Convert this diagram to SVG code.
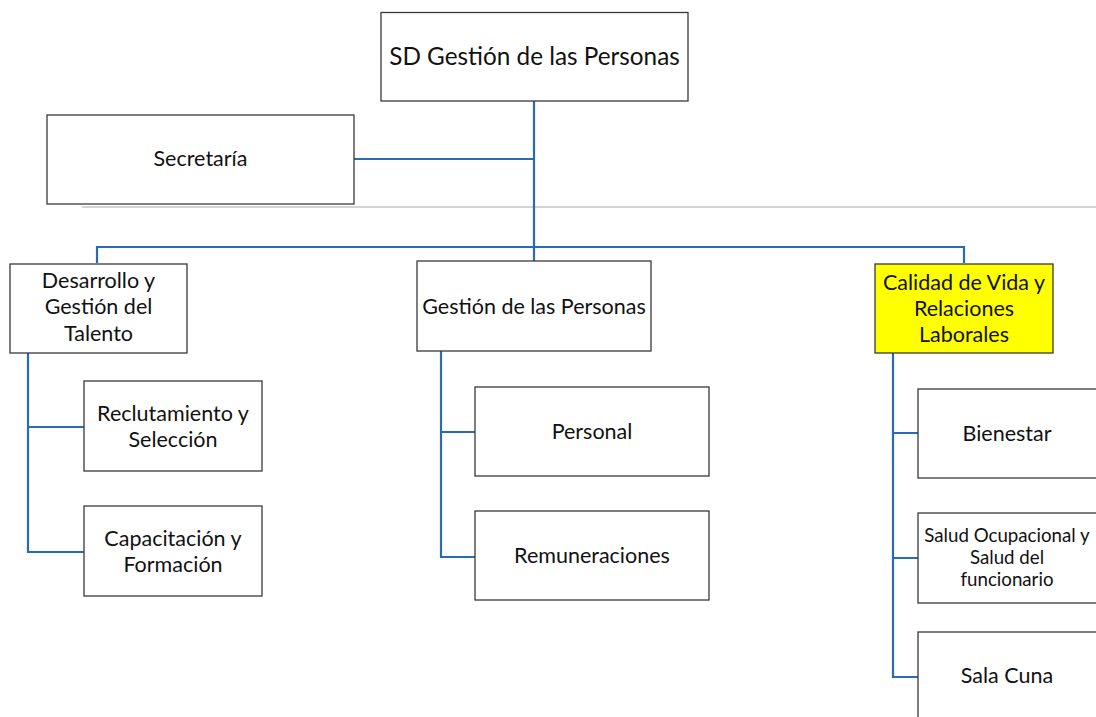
<svg xmlns="http://www.w3.org/2000/svg" width="1096" height="717" viewBox="0 0 1096 717">
<style>
.box{fill:#fff;stroke:#3a3a3a;stroke-width:1.3}
.hl{fill:#ffff00;stroke:#3a3a3a;stroke-width:1.3}
.t{font-family:Lato,"Noto Sans",sans-serif;fill:#111;text-anchor:middle}
.m{font-size:21.5px}
.s{font-size:18.7px}
.c{fill:none;stroke:#2a6cb3;stroke-width:2.2}
</style>
<rect width="1096" height="717" fill="#fff"/>
<line x1="82" y1="207" x2="1096" y2="207" stroke="#a8a8a8" stroke-width="1"/>
<g id="connectors">
<path class="c" d="M534 101V261M354 159H534M97 263V247H964V263"/>
<path class="c" d="M28 353V552H84M28 427H84"/>
<path class="c" d="M441 351V557H475M441 432H475"/>
<path class="c" d="M893 353V677H918M893 433H918M893 558H918"/>
</g>
<g id="n-sd"><rect class="box" x="381" y="12.5" width="307" height="88.5"/><text class="t" x="534.5" y="65" font-size="24.3">SD Gestión de las Personas</text></g>
<g id="n-secretaria"><rect class="box" x="47" y="115" width="307" height="89"/><text class="t m" x="200.5" y="166">Secretaría</text></g>
<g id="n-desarrollo"><rect class="box" x="10" y="264" width="177" height="89"/><text class="t m" x="98.5"><tspan x="98.5" y="288">Desarrollo y</tspan><tspan x="98.5" y="314">Gestión del</tspan><tspan x="98.5" y="341">Talento</tspan></text></g>
<g id="n-gestion"><rect class="box" x="417" y="261" width="234" height="90"/><text class="t m" x="534" y="314">Gestión de las Personas</text></g>
<g id="n-calidad"><rect class="hl" x="875" y="264" width="178" height="89"/><text class="t m"><tspan x="964" y="290">Calidad de Vida y</tspan><tspan x="964" y="316">Relaciones</tspan><tspan x="964" y="342">Laborales</tspan></text></g>
<g id="n-reclutamiento"><rect class="box" x="84" y="381" width="178" height="90"/><text class="t m"><tspan x="173" y="421">Reclutamiento y</tspan><tspan x="173" y="447">Selección</tspan></text></g>
<g id="n-capacitacion"><rect class="box" x="84" y="506" width="178" height="90"/><text class="t m"><tspan x="173" y="546">Capacitación y</tspan><tspan x="173" y="572">Formación</tspan></text></g>
<g id="n-personal"><rect class="box" x="475" y="387" width="234" height="89"/><text class="t m" x="592" y="439">Personal</text></g>
<g id="n-remuneraciones"><rect class="box" x="475" y="511" width="234" height="89"/><text class="t m" x="592" y="563">Remuneraciones</text></g>
<g id="n-bienestar"><rect class="box" x="918" y="389" width="180" height="89"/><text class="t m" x="1007" y="441">Bienestar</text></g>
<g id="n-salud"><rect class="box" x="918" y="513" width="180" height="90"/><text class="t s"><tspan x="1007" y="542">Salud Ocupacional y</tspan><tspan x="1007" y="564">Salud del</tspan><tspan x="1007" y="586">funcionario</tspan></text></g>
<g id="n-salacuna"><rect class="box" x="918" y="632" width="180" height="90"/><text class="t m" x="1007" y="683">Sala Cuna</text></g>
</svg>
